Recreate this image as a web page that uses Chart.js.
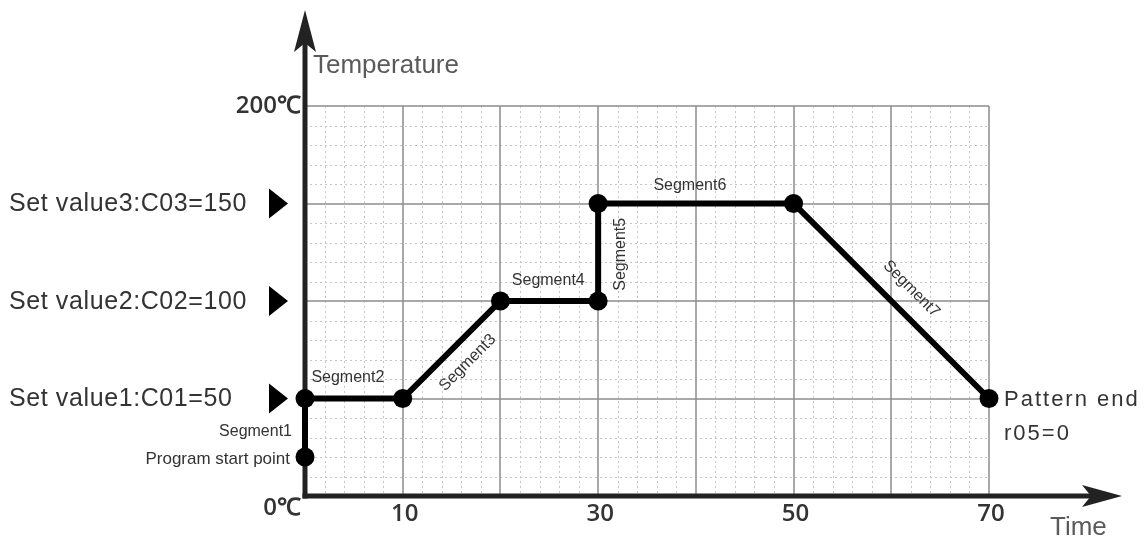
<!DOCTYPE html>
<html>
<head>
<meta charset="utf-8">
<script src="https://cdn.jsdelivr.net/npm/chart.js@4/dist/chart.umd.min.js"></script>
<style>
  body { margin: 0; background: #fff; }
  #wrap { width: 1146px; height: 542px; position: relative; }
</style>
</head>
<body>
<div id="wrap"><canvas id="programChart"></canvas></div>
<script>
/* Program pattern data */
const timeValues = [0, 0, 10, 20, 30, 30, 50, 70];
const tempValues = [20, 50, 50, 100, 100, 150, 150, 50];
const segmentNames = ['Segment1', 'Segment2', 'Segment3', 'Segment4', 'Segment5', 'Segment6', 'Segment7'];
const xTickValues = [10, 30, 50, 70];
const yTickValues = [0, 200];
const yTickLabels = ['0℃', '200℃'];
const setValues = [50, 100, 150];
const setValueLabels = ['Set value1:C01=50', 'Set value2:C02=100', 'Set value3:C03=150'];

// label placement relative to each segment's midpoint: [dx, dy, angle, align]
const segLabelStyle = [
  [-13, 4, 0, 'right'],
  [-6, -21, 0, 'center'],
  [16, 13, -Math.PI / 4, 'center'],
  [-1, -20, 0, 'center'],
  [22, 2, -Math.PI / 2, 'center'],
  [-6, -18, 0, 'center'],
  [20, -12, Math.PI / 4, 'center']
];

const points = timeValues.map((t, i) => ({ x: t, y: tempValues[i] }));

const gridPlugin = {
  id: 'gridAndAxes',
  beforeDatasetsDraw(chart) {
    const { ctx, chartArea: a, scales: { x, y } } = chart;
    ctx.save();
    // minor dotted grid
    ctx.strokeStyle = '#c6c6c6';
    ctx.lineWidth = 1;
    ctx.setLineDash([2, 3]);
    for (let v = 2; v < 70; v += 2) {
      if (v % 10 === 0) continue;
      const px = Math.round(x.getPixelForValue(v)) + 0.5;
      ctx.beginPath(); ctx.moveTo(px, a.top); ctx.lineTo(px, a.bottom); ctx.stroke();
    }
    for (let v = 10; v < 200; v += 10) {
      if (v % 50 === 0) continue;
      const py = Math.round(y.getPixelForValue(v)) + 0.5;
      ctx.beginPath(); ctx.moveTo(a.left, py); ctx.lineTo(a.right, py); ctx.stroke();
    }
    // major solid grid
    ctx.setLineDash([]);
    ctx.strokeStyle = '#8c8c8c';
    ctx.lineWidth = 1.5;
    for (let v = 10; v <= 70; v += 10) {
      const px = Math.round(x.getPixelForValue(v));
      ctx.beginPath(); ctx.moveTo(px, a.top); ctx.lineTo(px, a.bottom); ctx.stroke();
    }
    for (let v = 50; v <= 200; v += 50) {
      const py = Math.round(y.getPixelForValue(v));
      ctx.beginPath(); ctx.moveTo(a.left, py); ctx.lineTo(a.right, py); ctx.stroke();
    }
    // axes with arrows
    const x0 = x.getPixelForValue(0), y0 = y.getPixelForValue(0);
    const topTip = a.top - 96, rightTip = a.right + 133;
    ctx.strokeStyle = '#222';
    ctx.fillStyle = '#222';
    ctx.lineWidth = 5;
    ctx.beginPath(); ctx.moveTo(x0, y0 + 2.5); ctx.lineTo(x0, topTip + 20); ctx.stroke();
    ctx.beginPath(); ctx.moveTo(x0 - 2.5, y0); ctx.lineTo(rightTip - 20, y0); ctx.stroke();
    ctx.beginPath();
    ctx.moveTo(x0, topTip);
    ctx.lineTo(x0 + 11, topTip + 42);
    ctx.lineTo(x0, topTip + 33);
    ctx.lineTo(x0 - 11, topTip + 42);
    ctx.closePath(); ctx.fill();
    ctx.beginPath();
    ctx.moveTo(rightTip, y0);
    ctx.lineTo(rightTip - 40, y0 + 11);
    ctx.lineTo(rightTip - 31, y0);
    ctx.lineTo(rightTip - 40, y0 - 11);
    ctx.closePath(); ctx.fill();
    ctx.restore();
  },
  afterDatasetsDraw(chart) {
    const { ctx, chartArea: a, scales: { x, y } } = chart;
    ctx.save();
    ctx.textBaseline = 'middle';
    // titles
    ctx.fillStyle = '#5a5a5a';
    ctx.font = '26px "Liberation Sans", Arial, sans-serif';
    ctx.textAlign = 'left';
    ctx.fillText('Temperature', x.getPixelForValue(0) + 8, a.top - 40);
    ctx.fillText('Time', a.right + 61, y.getPixelForValue(0) + 32);
    // tick labels
    ctx.fillStyle = '#333';
    ctx.font = '600 24px "Open Sans", sans-serif';
    ctx.textAlign = 'center';
    xTickValues.forEach(v => ctx.fillText(String(v), x.getPixelForValue(v) + 2, a.bottom + 18));
    ctx.textAlign = 'right';
    yTickValues.forEach((v, i) => {
      const py = y.getPixelForValue(v) + (v === 0 ? 12 : 0);
      ctx.fillText(yTickLabels[i], a.left - 4, py);
    });
    // set value labels with triangles
    ctx.font = '25px "Liberation Sans", Arial, sans-serif';
    ctx.textAlign = 'left';
    ctx.fillStyle = '#333';
    setValues.forEach((v, i) => {
      const py = y.getPixelForValue(v);
      ctx.letterSpacing = '0.6px';
      ctx.fillText(setValueLabels[i], 9, py + 1);
      ctx.letterSpacing = '0px';
      ctx.fillStyle = '#000';
      ctx.beginPath();
      ctx.moveTo(a.left - 36, py - 15);
      ctx.lineTo(a.left - 17, py);
      ctx.lineTo(a.left - 36, py + 15);
      ctx.closePath(); ctx.fill();
      ctx.fillStyle = '#333';
    });
    // segment labels
    ctx.font = '16px "Liberation Sans", Arial, sans-serif';
    ctx.fillStyle = '#333';
    segmentNames.forEach((name, i) => {
      const mx = x.getPixelForValue((timeValues[i] + timeValues[i + 1]) / 2);
      const my = y.getPixelForValue((tempValues[i] + tempValues[i + 1]) / 2);
      const [dx, dy, ang, align] = segLabelStyle[i];
      ctx.save();
      ctx.translate(mx + dx, my + dy);
      ctx.rotate(ang);
      ctx.textAlign = align;
      ctx.fillText(name, 0, 0);
      ctx.restore();
    });
    ctx.textAlign = 'right';
    ctx.font = '17px "Liberation Sans", Arial, sans-serif';
    ctx.fillText('Program start point', a.left - 15, y.getPixelForValue(tempValues[0]) + 2);
    // pattern end
    const last = timeValues.length - 1;
    ctx.font = '22px "Liberation Sans", Arial, sans-serif';
    ctx.letterSpacing = '2px';
    ctx.textAlign = 'left';
    const ex = x.getPixelForValue(timeValues[last]) + 15;
    const ey = y.getPixelForValue(tempValues[last]);
    ctx.fillText('Pattern end', ex, ey + 1);
    ctx.fillText('r05=0', ex, ey + 35);
    ctx.restore();
  }
};

new Chart(document.getElementById('programChart').getContext('2d'), {
  type: 'line',
  data: {
    datasets: [{
      data: points,
      borderColor: '#000',
      backgroundColor: '#000',
      borderWidth: 6,
      pointRadius: 9.5,
      pointHoverRadius: 9.5,
      pointBackgroundColor: '#000',
      pointBorderWidth: 0,
      tension: 0,
      clip: false
    }]
  },
  options: {
    responsive: true,
    maintainAspectRatio: false,
    animation: false,
    layout: { padding: { left: 305, right: 157, top: 106, bottom: 46 } },
    plugins: { legend: { display: false }, tooltip: { enabled: false } },
    scales: {
      x: { type: 'linear', min: 0, max: 70, display: false },
      y: { min: 0, max: 200, display: false }
    }
  },
  plugins: [gridPlugin]
});
</script>
</body>
</html>
